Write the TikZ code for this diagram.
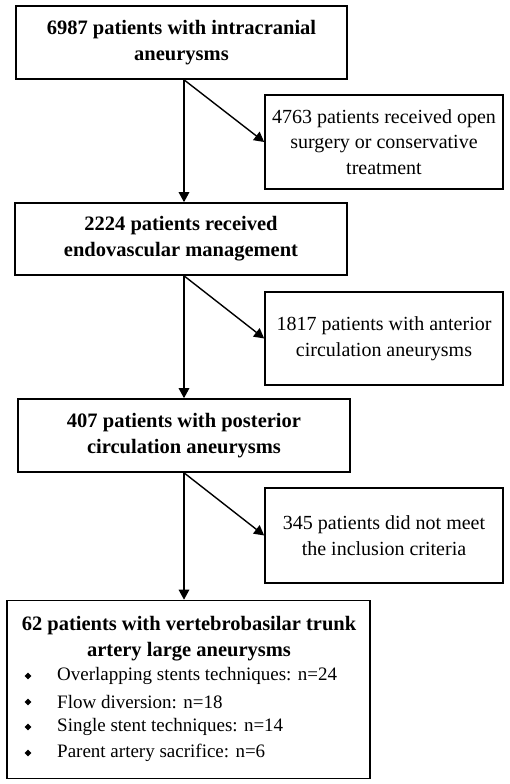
\documentclass[tikz,border=0pt]{standalone}
\usepackage{fontspec}
\setmainfont{Liberation Serif}
\usetikzlibrary{arrows.meta,shapes.geometric}
\tikzset{
  mainbox/.style={draw,line width=1.6pt,align=center,inner sep=0pt,font=\bfseries\fontsize{20.5}{26}\selectfont},
  sidebox/.style={draw,line width=1.6pt,align=center,inner sep=0pt,minimum width=238pt,font=\fontsize{20}{25.5}\selectfont},
  arr/.style={line width=1.4pt,-{Triangle[width=10.5pt,length=10pt]}},
  itemtxt/.style={anchor=west,inner sep=0pt,font=\fontsize{19}{24}\selectfont},
  bul/.style={diamond,fill=black,inner sep=0pt,minimum size=7pt},
}
\begin{document}
\begin{tikzpicture}[x=1pt,y=-1pt]
\useasboundingbox (0,0) rectangle (510,784);
\coordinate (sp) at (184,0);
\node[mainbox,minimum width=331pt,minimum height=73pt] (b1) at (181.5,42.5) {6987 patients with intracranial\\aneurysms};
\node[sidebox,minimum height=94pt] (r1) at (384,142) {4763 patients received open\\surgery or conservative\\treatment};
\node[mainbox,minimum width=332pt,minimum height=72pt] (b2) at (181,239) {2224 patients received\\endovascular management};
\node[sidebox,minimum height=93pt] (r2) at (384,338.5) {1817 patients with anterior\\circulation aneurysms};
\node[mainbox,minimum width=332pt,minimum height=73pt] (b3) at (184,435.5) {407 patients with posterior\\circulation aneurysms};
\node[sidebox,minimum height=95pt] (r3) at (384,535.5) {345 patients did not meet\\the inclusion criteria};
\node[draw,line width=1.6pt,minimum width=363pt,minimum height=178pt,inner sep=0pt] (b4) at (188.5,689.5) {};
\node[align=center,inner sep=0pt,font=\bfseries\fontsize{20.5}{26.5}\selectfont] (h4) at (189,638.5) {62 patients with vertebrobasilar trunk\\artery large aneurysms};
\node[bul] (d1) at (28,676) {};
\node[bul] (d2) at (28,702) {};
\node[bul] (d3) at (28,727) {};
\node[bul] (d4) at (28,753) {};
\node[itemtxt] (i1) at (57,676) {Overlapping stents techniques: n=24};
\node[itemtxt] (i2) at (57,702) {Flow diversion: n=18};
\node[itemtxt] (i3) at (57,727) {Single stent techniques: n=14};
\node[itemtxt] (i4) at (57,753) {Parent artery sacrifice: n=6};
\draw[arr] (b1.south -| sp) -- (b2.north -| sp);
\draw[arr] (b1.south -| sp) -- (r1.west);
\draw[arr] (b2.south -| sp) -- (b3.north -| sp);
\draw[arr] (b2.south -| sp) -- (r2.west);
\draw[arr] (b3.south -| sp) -- (b4.north -| sp);
\draw[arr] (b3.south -| sp) -- (r3.west);
\end{tikzpicture}
\end{document}
